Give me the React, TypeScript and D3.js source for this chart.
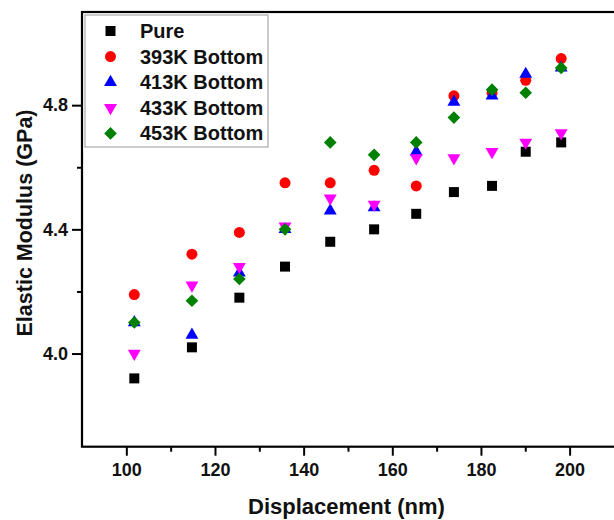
import React, { useRef, useEffect } from 'react';
import * as d3 from 'd3';

// displacement (nm), shared by all series
const displacement = [101.8, 114.8, 125.5, 135.8, 146.0, 155.9, 165.4, 173.9, 182.5, 190.1, 198.1];

const pure = [3.92, 4.02, 4.18, 4.28, 4.36, 4.40, 4.45, 4.52, 4.54, 4.65, 4.68];
const bottom393 = [4.19, 4.32, 4.39, 4.55, 4.55, 4.59, 4.54, 4.83, 4.84, 4.88, 4.95];
const bottom413 = [4.10, 4.06, 4.26, 4.40, 4.46, 4.47, 4.65, 4.81, 4.83, 4.90, 4.92];
const bottom433 = [4.00, 4.22, 4.28, 4.41, 4.50, 4.48, 4.63, 4.63, 4.65, 4.68, 4.71];
const bottom453 = [4.10, 4.17, 4.24, 4.40, 4.68, 4.64, 4.68, 4.76, 4.85, 4.84, 4.92];

const seriesNames = ['Pure', '393K Bottom', '413K Bottom', '433K Bottom', '453K Bottom'];
const seriesValues = [pure, bottom393, bottom413, bottom433, bottom453];

const xTicks = [100, 120, 140, 160, 180, 200];
const xMinorTicks = [110, 130, 150, 170, 190];
const yTicks = [4.0, 4.4, 4.8];
const yMinorTicks = [4.2, 4.6];

const styles = [
  { color: '#000000', shape: 'square' },
  { color: '#ff0000', shape: 'circle' },
  { color: '#0000ff', shape: 'up' },
  { color: '#ff00ff', shape: 'down' },
  { color: '#008000', shape: 'diamond' },
];

const W = 614;
const H = 520;
const FONT = '"Liberation Sans", Arial, sans-serif';

function markerPath(shape: string) {
  if (shape === 'circle') return d3.symbol(d3.symbolCircle, 95)();
  if (shape === 'up' || shape === 'down') return d3.symbol(d3.symbolTriangle, 72)();
  return d3.symbol(d3.symbolSquare, shape === 'diamond' ? 80 : 100)();
}
function markerRotate(shape: string) {
  if (shape === 'down') return 180;
  if (shape === 'diamond') return 45;
  return 0;
}

const App = () => {
  const svgRef = useRef<SVGSVGElement>(null);

  useEffect(() => {
    const svg = d3.select(svgRef.current);
    svg.selectAll('*').remove();

    // plot frame runs past the right edge of the picture
    const left = 82, right = 622.8, top = 12, bottom = 446.7;
    const x = d3.scaleLinear().domain([90, 212]).range([left, right]);
    const y = d3.scaleLinear().domain([3.7, 5.1]).range([bottom, top]);

    svg.append('rect').attr('width', W).attr('height', H).attr('fill', 'white');

    // frame
    svg.append('rect')
      .attr('x', left).attr('y', top)
      .attr('width', right - left).attr('height', bottom - top)
      .attr('fill', 'none').attr('stroke', '#000').attr('stroke-width', 2.2);

    // x axis
    const xAxis = d3.axisBottom(x).tickValues(xTicks).tickSize(9).tickPadding(8).tickFormat(d3.format('d'));
    const gx = svg.append('g').attr('transform', `translate(0,${bottom})`).call(xAxis);
    gx.select('.domain').remove();
    gx.selectAll('line').attr('stroke-width', 2);
    gx.selectAll('text').attr('font-family', FONT).attr('font-size', 18).attr('font-weight', 'bold').attr('fill', '#111');
    const gxm = svg.append('g').attr('transform', `translate(0,${bottom})`)
      .call(d3.axisBottom(x).tickValues(xMinorTicks).tickSize(5).tickFormat(() => ''));
    gxm.select('.domain').remove();
    gxm.selectAll('line').attr('stroke-width', 2);

    // y axis
    const yAxis = d3.axisLeft(y).tickValues(yTicks).tickSize(10).tickPadding(4).tickFormat(d3.format('.1f'));
    const gy = svg.append('g').attr('transform', `translate(${left},0)`).call(yAxis);
    gy.select('.domain').remove();
    gy.selectAll('line').attr('stroke-width', 2);
    gy.selectAll('text').attr('font-family', FONT).attr('font-size', 18).attr('font-weight', 'bold').attr('fill', '#111');
    const gym = svg.append('g').attr('transform', `translate(${left},0)`)
      .call(d3.axisLeft(y).tickValues(yMinorTicks).tickSize(5).tickFormat(() => ''));
    gym.select('.domain').remove();
    gym.selectAll('line').attr('stroke-width', 2);

    // axis titles
    svg.append('text')
      .attr('x', 346.5).attr('y', 514)
      .attr('text-anchor', 'middle')
      .attr('font-family', FONT).attr('font-size', 22).attr('font-weight', 'bold').attr('fill', '#111')
      .text('Displacement (nm)');
    svg.append('text')
      .attr('transform', `translate(32,223) rotate(-90)`)
      .attr('text-anchor', 'middle')
      .attr('font-family', FONT).attr('font-size', 21.5).attr('font-weight', 'bold').attr('fill', '#111')
      .text('Elastic Modulus (GPa)');

    // points
    seriesValues.forEach((vals, si) => {
      const st = styles[si];
      svg.append('g')
        .selectAll('path')
        .data(vals)
        .enter()
        .append('path')
        .attr('d', markerPath(st.shape))
        .attr('transform', (d, i) => `translate(${x(displacement[i])},${y(d)}) rotate(${markerRotate(st.shape)})`)
        .attr('fill', st.color);
    });

    // legend
    const lg = svg.append('g');
    lg.append('rect')
      .attr('x', 85).attr('y', 15).attr('width', 183).attr('height', 132)
      .attr('fill', 'white').attr('stroke', '#999').attr('stroke-width', 1);
    seriesNames.forEach((name, i) => {
      const ry = 31 + i * 25.6;
      const st = styles[i];
      lg.append('path')
        .attr('d', markerPath(st.shape))
        .attr('transform', `translate(110.5,${ry}) rotate(${markerRotate(st.shape)})`)
        .attr('fill', st.color);
      lg.append('text')
        .attr('x', 140).attr('y', ry + 7)
        .attr('font-family', FONT).attr('font-size', 20).attr('font-weight', 'bold').attr('fill', '#111')
        .text(name);
    });
  }, []);

  return (
    <div style={{ position: 'absolute', left: 0, top: 0 }}>
      <svg ref={svgRef} width={W} height={H}></svg>
    </div>
  );
};

export default App;
